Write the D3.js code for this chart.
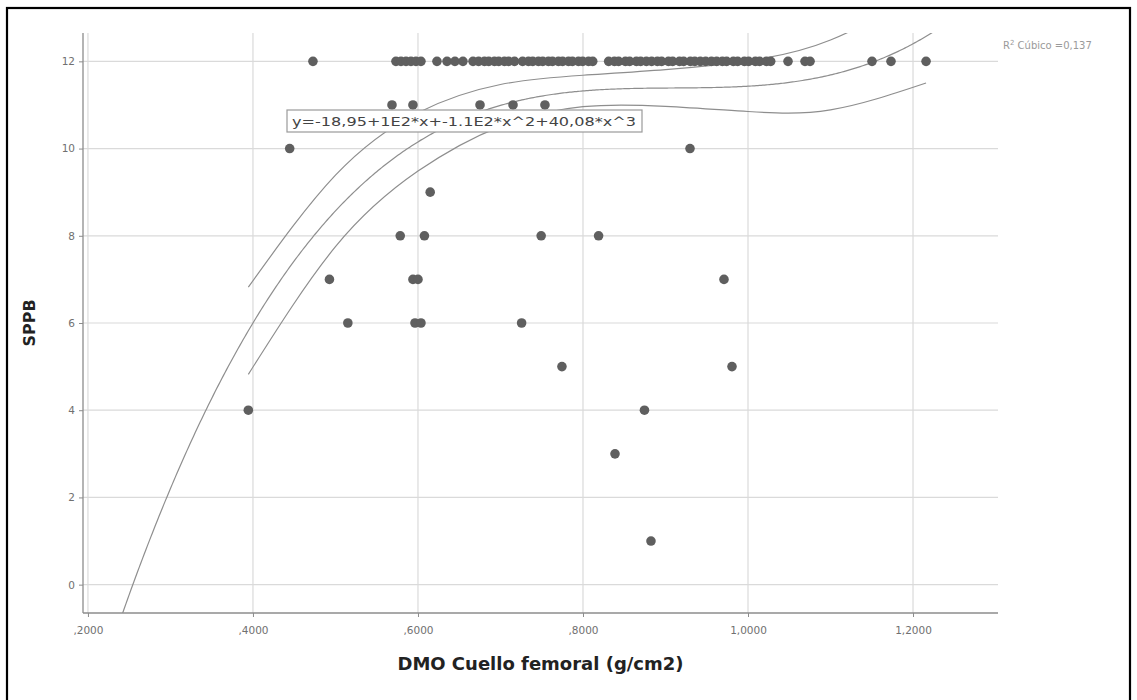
<!DOCTYPE html>
<html>
<head>
<meta charset="utf-8">
<script src="https://cdn.jsdelivr.net/npm/d3@7"></script>
<style>
  html, body { margin: 0; padding: 0; background: #fff; }
  svg { display: block; }
</style>
</head>
<body>
<svg id="chart" width="1137" height="700"></svg>
<script>
// Femoral neck BMD (g/cm2) of each patient, grouped by SPPB score
const dmoSppb12 = [
  0.4727,
  0.5733, 0.5794, 0.5855, 0.5915, 0.5976, 0.6036,
  0.6230, 0.6352, 0.6448, 0.6545, 0.6667,
  0.6735, 0.6806, 0.6858, 0.6927, 0.6979, 0.7048, 0.7099, 0.7170,
  0.7268, 0.7339, 0.7391, 0.7460, 0.7512, 0.7581, 0.7630, 0.7702,
  0.7753, 0.7824, 0.7872, 0.7945, 0.7996, 0.8067, 0.8118,
  0.8311, 0.8381, 0.8432, 0.8514, 0.8566, 0.8647, 0.8699, 0.8768,
  0.8832, 0.8901, 0.8953, 0.9036, 0.9087, 0.9169, 0.9220, 0.9301,
  0.9355, 0.9422, 0.9487, 0.9557, 0.9620, 0.9689, 0.9741, 0.9822,
  0.9875, 0.9956, 1.0008, 1.0089, 1.0141, 1.0223, 1.0275,
  1.0485, 1.0691, 1.0752, 1.1503, 1.1733, 1.2158
];
const dmoSppb11 = [0.5685, 0.5939, 0.6752, 0.7152, 0.7539];
const dmoSppb10 = [0.4445, 0.9297];
const dmoSppb9  = [0.6148];
const dmoSppb8  = [0.5785, 0.6078, 0.7493, 0.8189];
const dmoSppb7  = [0.4927, 0.5939, 0.6000, 0.9709];
const dmoSppb6  = [0.5150, 0.5964, 0.6036, 0.7256];
const dmoSppb5  = [0.7745, 0.9806];
const dmoSppb4  = [0.3944, 0.8745];
const dmoSppb3  = [0.8388];
const dmoSppb1  = [0.8824];

const scoreGroups = [
  [12, dmoSppb12], [11, dmoSppb11], [10, dmoSppb10], [9, dmoSppb9],
  [8, dmoSppb8], [7, dmoSppb7], [6, dmoSppb6], [5, dmoSppb5],
  [4, dmoSppb4], [3, dmoSppb3], [1, dmoSppb1]
];

// Axis ticks
const xTicks = [0.2, 0.4, 0.6, 0.8, 1.0, 1.2];
const xTickLabels = [",2000", ",4000", ",6000", ",8000", "1,0000", "1,2000"];
const yTicks = [0, 2, 4, 6, 8, 10, 12];

// Cubic fit: y = b0 + b1 x + b2 x^2 + b3 x^3
const fitCoef = [-18.95, 99.74, -109.44, 40.08];
const fitLabel = "y=-18,95+1E2*x+-1.1E2*x^2+40,08*x^3";
const r2Label = "0,137";

// Half-width of the 95% confidence band for the mean, along x
const bandX    = [0.3944, 0.50, 0.60, 0.70, 0.80, 0.90, 1.00, 1.10, 1.2158];
const bandHalf = [1.00,   0.82, 0.67, 0.48, 0.36, 0.42, 0.58, 0.80, 1.07];

const points = scoreGroups.flatMap(([score, xs]) => xs.map(x => ({ x, y: score })));
const fit = x => fitCoef[0] + fitCoef[1] * x + fitCoef[2] * x * x + fitCoef[3] * x * x * x;

const svg = d3.select("#chart");
const plot = { left: 83, right: 998, top: 33, bottom: 613 };

const x = d3.scaleLinear().domain([0.194, 1.303]).range([plot.left, plot.right]);
const y = d3.scaleLinear().domain([-0.65, 12.65]).range([plot.bottom, plot.top]);

const gridColor = "#dadada";
const axisColor = "#8c8c8c";
const tickText = "#707070";

// Outer frame
svg.append("rect")
  .attr("x", 7).attr("y", 8).attr("width", 1123).attr("height", 720)
  .attr("fill", "none").attr("stroke", "#000").attr("stroke-width", 2.2);

// Gridlines
svg.append("g").selectAll("line").data(yTicks).join("line")
  .attr("x1", plot.left).attr("x2", plot.right)
  .attr("y1", d => y(d)).attr("y2", d => y(d))
  .attr("stroke", gridColor).attr("stroke-width", 1.2);
svg.append("g").selectAll("line").data(xTicks).join("line")
  .attr("x1", d => x(d)).attr("x2", d => x(d))
  .attr("y1", plot.top).attr("y2", plot.bottom)
  .attr("stroke", gridColor).attr("stroke-width", 1.2);

// Axes
const yAxis = d3.axisLeft(y).tickValues(yTicks).tickSize(4).tickFormat(d3.format("d"));
const gy = svg.append("g").attr("transform", `translate(${plot.left},0)`).call(yAxis);
const xAxis = d3.axisBottom(x).tickValues(xTicks).tickSize(4)
  .tickFormat((d, i) => xTickLabels[i]);
const gx = svg.append("g").attr("transform", `translate(0,${plot.bottom})`).call(xAxis);

[gx, gy].forEach(g => {
  g.select(".domain").attr("stroke", axisColor).attr("stroke-width", 1.3);
  g.selectAll(".tick line").attr("stroke", axisColor);
  g.selectAll(".tick text")
    .attr("fill", tickText)
    .style("font-family", "DejaVu Sans, sans-serif")
    .style("font-size", "10.5px");
});
gx.select(".domain").attr("d", `M${plot.left},0H${plot.right}`);
gy.select(".domain").attr("d", `M0,${plot.bottom}V${plot.top}`);
gx.selectAll(".tick text").attr("y", 14);
gy.selectAll(".tick text").attr("x", -8);

// Curves clipped to the plotting area
svg.append("clipPath").attr("id", "plotClip")
  .append("rect")
  .attr("x", plot.left).attr("y", plot.top)
  .attr("width", plot.right - plot.left).attr("height", plot.bottom - plot.top);

const curves = svg.append("g").attr("clip-path", "url(#plotClip)");
const curveColor = "#8e8e8e";

const fitLine = d3.line().x(d => x(d[0])).y(d => y(d[1]));
const fitXs = d3.ticks(x.domain()[0], x.domain()[1], 400);
curves.append("path")
  .attr("d", fitLine(fitXs.map(v => [v, fit(v)])))
  .attr("fill", "none").attr("stroke", curveColor).attr("stroke-width", 1.2);

const bandLine = d3.line().x(d => x(d[0])).y(d => y(d[1])).curve(d3.curveNatural);
[1, -1].forEach(sign => {
  curves.append("path")
    .attr("d", bandLine(bandX.map((v, i) => [v, fit(v) + sign * bandHalf[i]])))
    .attr("fill", "none").attr("stroke", curveColor).attr("stroke-width", 1.2);
});

// Points
svg.append("g").selectAll("circle").data(points).join("circle")
  .attr("cx", d => x(d.x)).attr("cy", d => y(d.y)).attr("r", 4.8)
  .attr("fill", "#5f5f5f");

// Equation label
const eq = svg.append("g");
eq.append("rect")
  .attr("x", 287).attr("y", 110).attr("width", 355).attr("height", 22)
  .attr("fill", "#fff").attr("stroke", "#9a9a9a").attr("stroke-width", 1.2);
eq.append("text")
  .attr("x", 292).attr("y", 126)
  .attr("textLength", 344).attr("lengthAdjust", "spacingAndGlyphs")
  .attr("fill", "#444")
  .style("font-family", "DejaVu Sans, sans-serif").style("font-size", "13px")
  .text(fitLabel);

// R squared label
const r2 = svg.append("text")
  .attr("x", 1003).attr("y", 49)
  .attr("fill", "#9a9a9a")
  .style("font-family", "DejaVu Sans, sans-serif").style("font-size", "10px");
r2.append("tspan").text("R");
r2.append("tspan").attr("dy", -4).style("font-size", "7px").text("2");
r2.append("tspan").attr("dy", 4).text(" Cúbico =" + r2Label);

// Axis titles
svg.append("text")
  .attr("x", (plot.left + plot.right) / 2).attr("y", 670)
  .attr("text-anchor", "middle").attr("fill", "#222")
  .style("font-family", "DejaVu Sans, sans-serif").style("font-size", "18px")
  .style("font-weight", "bold")
  .text("DMO Cuello femoral (g/cm2)");

svg.append("text")
  .attr("transform", `translate(35,${(plot.top + plot.bottom) / 2}) rotate(-90)`)
  .attr("text-anchor", "middle").attr("fill", "#222")
  .style("font-family", "DejaVu Sans, sans-serif").style("font-size", "16px")
  .style("font-weight", "bold")
  .text("SPPB");
</script>
</body>
</html>
